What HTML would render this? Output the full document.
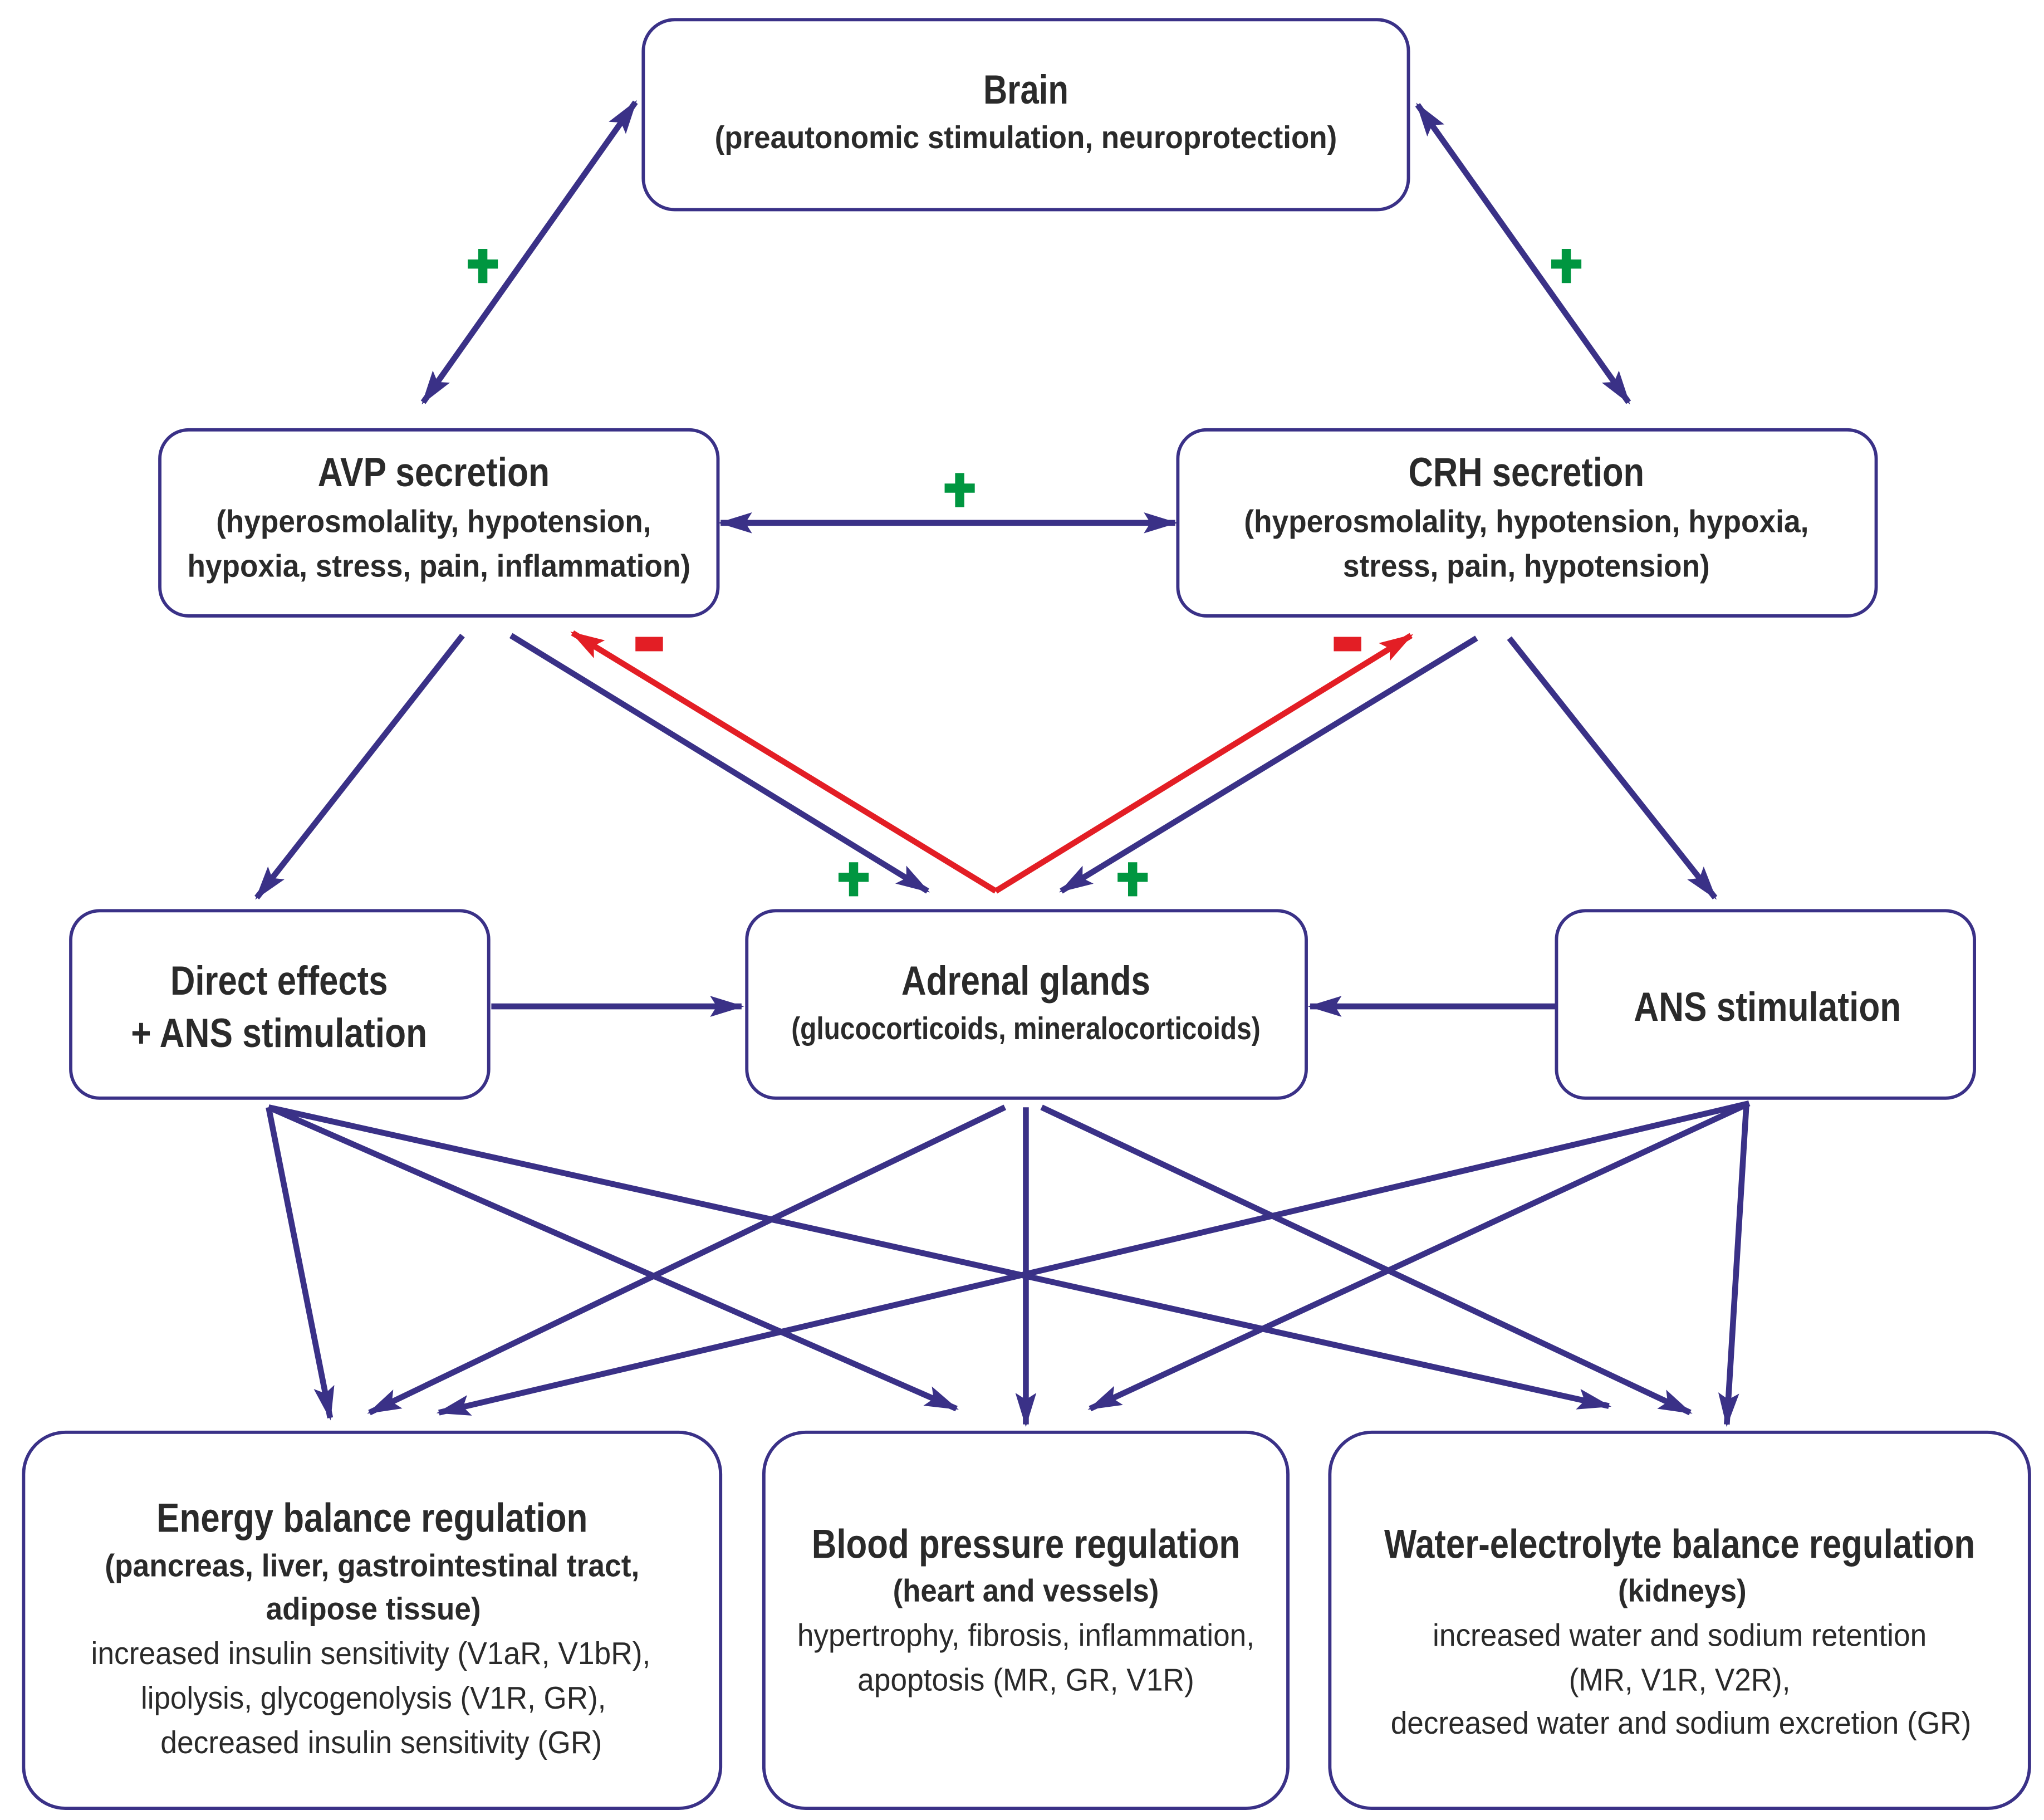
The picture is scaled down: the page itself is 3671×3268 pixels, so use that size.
<!DOCTYPE html>
<html><head><meta charset="utf-8"><style>
html,body{margin:0;padding:0;background:#fff}
svg{display:block}
text{font-family:"Liberation Sans",Arial,sans-serif;fill:#2a2a2a;text-anchor:middle}
.t{font-size:31px;font-weight:bold}
.s{font-size:24px;font-weight:bold}
.r{font-size:24px}
</style></head><body>
<svg width="3671" height="3268" viewBox="0 0 1560.1 1388.9" preserveAspectRatio="none" xmlns="http://www.w3.org/2000/svg">
<defs>
<marker id="a" markerUnits="userSpaceOnUse" markerWidth="26" markerHeight="20" refX="24" refY="10" orient="auto-start-reverse"><path d="M0,2 L26,10 L0,18 L5,10 Z" fill="#3a3187"/></marker>
<marker id="ar" markerUnits="userSpaceOnUse" markerWidth="26" markerHeight="20" refX="24" refY="10" orient="auto-start-reverse"><path d="M0,2 L26,10 L0,18 L5,10 Z" fill="#e31e25"/></marker>
</defs>
<g fill="none" stroke="#3a3187" stroke-width="2.5">
<rect x="491" y="15" width="584" height="145" rx="24"/>
<rect x="122" y="328" width="426" height="142" rx="22"/>
<rect x="899" y="328" width="533" height="142" rx="22"/>
<rect x="54" y="695" width="319" height="143" rx="22"/>
<rect x="570" y="695" width="427" height="143" rx="22"/>
<rect x="1188" y="695" width="319" height="143" rx="22"/>
<rect x="18" y="1093" width="532" height="287" rx="32"/>
<rect x="583" y="1093" width="400" height="287" rx="32"/>
<rect x="1015" y="1093" width="534" height="287" rx="32"/>
</g>
<g stroke="#3a3187" stroke-width="4.5" fill="none" marker-end="url(#a)">
<line x1="485" y1="78" x2="323" y2="307" marker-start="url(#a)"/>
<line x1="1082" y1="80" x2="1243" y2="307" marker-start="url(#a)"/>
<line x1="550" y1="399" x2="897" y2="399" marker-start="url(#a)"/>
<line x1="353" y1="485" x2="196" y2="685"/>
<line x1="390" y1="485" x2="708" y2="680"/>
<line x1="1127" y1="487" x2="810" y2="680"/>
<line x1="1152" y1="487" x2="1309" y2="685"/>
<line x1="375" y1="768" x2="566" y2="768"/>
<line x1="1188" y1="768" x2="1000" y2="768"/>
<line x1="205" y1="845" x2="252" y2="1082"/>
<line x1="205" y1="845" x2="730" y2="1075"/>
<line x1="205" y1="845" x2="1228" y2="1073"/>
<line x1="767" y1="845" x2="282" y2="1078"/>
<line x1="783" y1="845" x2="783" y2="1087"/>
<line x1="795" y1="845" x2="1290" y2="1078"/>
<line x1="1335" y1="842" x2="335" y2="1078"/>
<line x1="1335" y1="842" x2="832" y2="1075"/>
<line x1="1333" y1="842" x2="1318" y2="1087"/>
</g>
<g stroke="#e31e25" stroke-width="4.5" fill="none">
<line x1="760" y1="680" x2="437" y2="483" marker-end="url(#ar)"/>
<line x1="760" y1="680" x2="1077" y2="485" marker-end="url(#ar)"/>
</g>
<g fill="#009640">
<path d="M365,190h7v8h8v7h-8v11h-7v-11h-8v-7h8z"/>
<path d="M1192,190h7v8h8v7h-8v11h-7v-11h-8v-7h8z"/>
<path d="M729,361h7v8h8v7h-8v11h-7v-11h-8v-7h8z"/>
<path d="M648,658h7v8h8v7h-8v11h-7v-11h-8v-7h8z"/>
<path d="M861,658h7v8h8v7h-8v11h-7v-11h-8v-7h8z"/>
</g>
<g fill="#e31e25">
<rect x="485" y="486" width="21" height="11"/>
<rect x="1018" y="486" width="21" height="11"/>
</g>
<text class="t" x="783" y="79" textLength="65" lengthAdjust="spacingAndGlyphs">Brain</text>
<text class="s" x="783" y="113" textLength="475" lengthAdjust="spacingAndGlyphs">(preautonomic stimulation, neuroprotection)</text>
<text class="t" x="331" y="371" textLength="177" lengthAdjust="spacingAndGlyphs">AVP secretion</text>
<text class="s" x="331" y="406" textLength="332" lengthAdjust="spacingAndGlyphs">(hyperosmolality, hypotension,</text>
<text class="s" x="335" y="440" textLength="384" lengthAdjust="spacingAndGlyphs">hypoxia, stress, pain, inflammation)</text>
<text class="t" x="1165" y="371" textLength="180" lengthAdjust="spacingAndGlyphs">CRH secretion</text>
<text class="s" x="1165" y="406" textLength="431" lengthAdjust="spacingAndGlyphs">(hyperosmolality, hypotension, hypoxia,</text>
<text class="s" x="1165" y="440" textLength="280" lengthAdjust="spacingAndGlyphs">stress, pain, hypotension)</text>
<text class="t" x="213" y="759" textLength="166" lengthAdjust="spacingAndGlyphs">Direct effects</text>
<text class="t" x="213" y="799" textLength="226" lengthAdjust="spacingAndGlyphs">+ ANS stimulation</text>
<text class="t" x="783" y="759" textLength="190" lengthAdjust="spacingAndGlyphs">Adrenal glands</text>
<text class="s" x="783" y="793" textLength="358" lengthAdjust="spacingAndGlyphs">(glucocorticoids, mineralocorticoids)</text>
<text class="t" x="1349" y="779" textLength="204" lengthAdjust="spacingAndGlyphs">ANS stimulation</text>
<text class="t" x="284" y="1169" textLength="329" lengthAdjust="spacingAndGlyphs">Energy balance regulation</text>
<text class="s" x="284" y="1203" textLength="408" lengthAdjust="spacingAndGlyphs">(pancreas, liver, gastrointestinal tract,</text>
<text class="s" x="285" y="1236" textLength="164" lengthAdjust="spacingAndGlyphs">adipose tissue)</text>
<text class="r" x="283" y="1270" textLength="427" lengthAdjust="spacingAndGlyphs">increased insulin sensitivity (V1aR, V1bR),</text>
<text class="r" x="285" y="1304" textLength="355" lengthAdjust="spacingAndGlyphs">lipolysis, glycogenolysis (V1R, GR),</text>
<text class="r" x="291" y="1338" textLength="337" lengthAdjust="spacingAndGlyphs">decreased insulin sensitivity (GR)</text>
<text class="t" x="783" y="1189" textLength="327" lengthAdjust="spacingAndGlyphs">Blood pressure regulation</text>
<text class="s" x="783" y="1222" textLength="203" lengthAdjust="spacingAndGlyphs">(heart and vessels)</text>
<text class="r" x="783" y="1256" textLength="349" lengthAdjust="spacingAndGlyphs">hypertrophy, fibrosis, inflammation,</text>
<text class="r" x="783" y="1290" textLength="257" lengthAdjust="spacingAndGlyphs">apoptosis (MR, GR, V1R)</text>
<text class="t" x="1282" y="1189" textLength="451" lengthAdjust="spacingAndGlyphs">Water-electrolyte balance regulation</text>
<text class="s" x="1284" y="1222" textLength="98" lengthAdjust="spacingAndGlyphs">(kidneys)</text>
<text class="r" x="1282" y="1256" textLength="377" lengthAdjust="spacingAndGlyphs">increased water and sodium retention</text>
<text class="r" x="1282" y="1290" textLength="169" lengthAdjust="spacingAndGlyphs">(MR, V1R, V2R),</text>
<text class="r" x="1283" y="1323" textLength="443" lengthAdjust="spacingAndGlyphs">decreased water and sodium excretion (GR)</text>
</svg>
</body></html>
